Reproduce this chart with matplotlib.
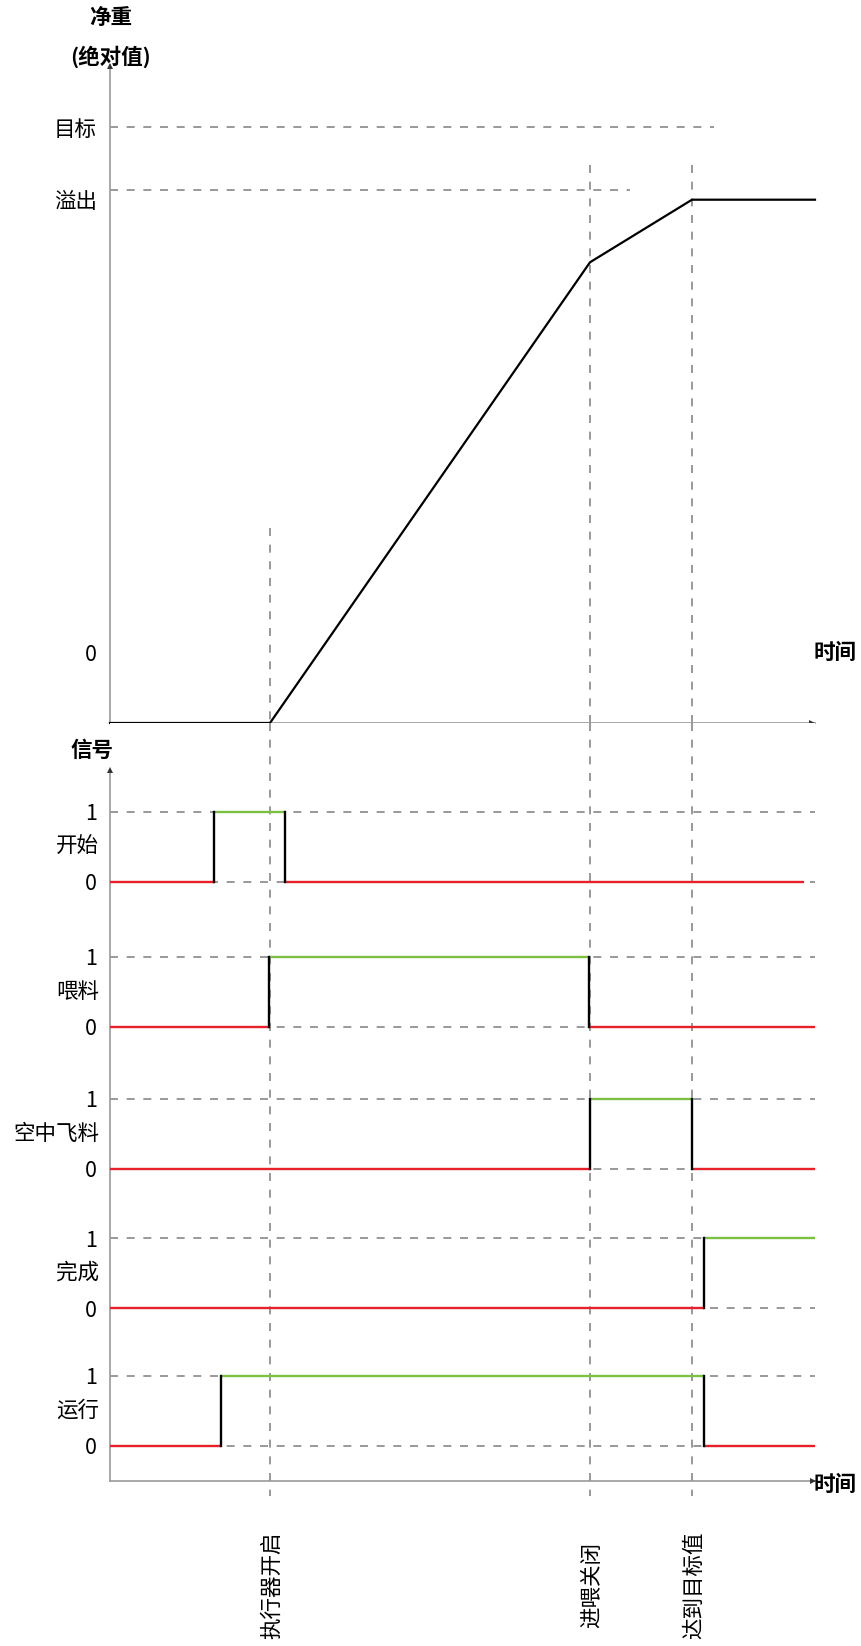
import matplotlib
matplotlib.use('Agg')
import matplotlib.pyplot as plt

plt.rcParams['font.family'] = ['Noto Sans CJK SC', 'DejaVu Sans']

# ---------------- data ----------------
weight_t = [0, 16, 48, 58.2, 70.5]
weight_v = [0, 0, 77.3, 87.8, 87.8]
target_level = 100
overflow_level = 89.4
weight_tick_pos = [11.9, 87.8, 100]
weight_tick_labels = ['0', '溢出', '目标']

event_t = [16, 48, 58.2]
event_labels = ['执行器开启', '进喂关闭', '达到目标值']

signal_names = ['开始', '喂料', '空中飞料', '完成', '运行']
signal_times = [[0, 10.4, 17.5, 69.4],
                [0, 15.9, 47.9, 70.5],
                [0, 48.0, 58.2, 70.5],
                [0, 59.4, 70.5],
                [0, 11.1, 59.4, 70.5]]
signal_states = [[0, 1, 0],
                 [0, 1, 0],
                 [0, 1, 0],
                 [0, 1],
                 [0, 1, 0]]

# ---------------- layout ----------------
W, H = 862, 1646
fig = plt.figure(figsize=(W / 100, H / 100), dpi=100)


def rect(l, t, r, b):
    return [l / W, 1 - b / H, (r - l) / W, (b - t) / H]


ax1 = fig.add_axes(rect(110, 65, 815, 723))
ax2 = fig.add_axes(rect(110, 723, 815, 1481))

GREY = '#999999'
DASH = '#888888'
dash_style = dict(color=DASH, lw=1.2, linestyle=(0, (4.8, 5.2)))
RED = '#e8202a'
GREEN = '#7cc142'
FS = 15.5
arrow = dict(color='#333333', ms=5, markeredgewidth=0, clip_on=False, zorder=6)

TMAX = 70.5
# ---- top panel ----
ax1.set_xlim(0, TMAX)
ax1.set_ylim(0, 110.4)
for s in ['top', 'right']:
    ax1.spines[s].set_visible(False)
for s in ['left', 'bottom']:
    ax1.spines[s].set_color(GREY)
    ax1.spines[s].set_linewidth(1.2)
ax1.set_xticks([])
ax1.set_yticks(weight_tick_pos)
ax1.set_yticklabels(weight_tick_labels)
ax1.tick_params(axis='y', length=0, pad=9.5, labelsize=FS)
ax1.plot([70.2], [0], marker='>', **arrow)
ax1.plot([0], [110.2], marker='^', **arrow)

ax1.plot([0, 60.4], [target_level, target_level], **dash_style)
ax1.plot([0, 52], [overflow_level, overflow_level], **dash_style)

event_tops = [32.7, 93.6, 93.6]
for t, top in zip(event_t, event_tops):
    ax1.plot([t, t], [top, 0], **dash_style)

ax1.plot(weight_t, weight_v, color='black', lw=1.6, clip_on=False, zorder=5)

# ---- bottom panel ----
row_off = [0, -2.071, -4.1, -6.086, -8.057]
YB, YT = -8.557, 2.271
ax2.set_xlim(0, TMAX)
ax2.set_ylim(YB, YT)
for s in ['top', 'right']:
    ax2.spines[s].set_visible(False)
for s in ['left', 'bottom']:
    ax2.spines[s].set_color(GREY)
    ax2.spines[s].set_linewidth(1.2)
ax2.spines['left'].set_bounds(YB, 1.6)
ax2.set_xticks([])
ax2.plot([0], [1.6], marker='^', **arrow)
ax2.plot([70.3], [YB], marker='>', **arrow)

for t in event_t:
    ax2.plot([t, t], [YT, -8.77], clip_on=False, **dash_style)

yt, yl = [], []
for off, name, ts, st in zip(row_off, signal_names, signal_times, signal_states):
    ax2.plot([0, TMAX], [off + 1, off + 1], **dash_style)
    ax2.plot([0, TMAX], [off, off], **dash_style)
    for i, s in enumerate(st):
        ax2.plot([ts[i], ts[i + 1]], [off + s, off + s],
                 color=GREEN if s else RED, lw=1.7, zorder=4, solid_capstyle='butt')
        if i > 0:
            ax2.plot([ts[i], ts[i]], [off, off + 1], color='black', lw=1.7, zorder=5)
    yt += [off + 1, off]
    yl += ['1', '0']
    ax2.text(-1.1, off + 0.5, name, ha='right', va='center', fontsize=FS)
ax2.set_yticks(yt)
ax2.set_yticklabels(yl)
ax2.tick_params(axis='y', length=0, pad=9.5, labelsize=FS)

for t, lab in zip(event_t, event_labels):
    ax2.text(t + 0.2, (882 - 1585) / 70, lab, rotation=90, ha='center', va='center',
             fontsize=FS, clip_on=False)

# ---- axis titles ----
fig.text(111 / W, 1 - 17 / H, '净重', ha='center', va='center', fontsize=FS, fontweight='bold')
fig.text(111 / W, 1 - 57 / H, '(绝对值)', ha='center', va='center', fontsize=FS, fontweight='bold')
fig.text(92 / W, 1 - 750 / H, '信号', ha='center', va='center', fontsize=FS, fontweight='bold')
fig.text(835 / W, 1 - 652 / H, '时间', ha='center', va='center', fontsize=FS, fontweight='bold')
fig.text(835 / W, 1 - 1484 / H, '时间', ha='center', va='center', fontsize=FS, fontweight='bold')

fig.savefig('out.png', dpi=100, facecolor='white')
